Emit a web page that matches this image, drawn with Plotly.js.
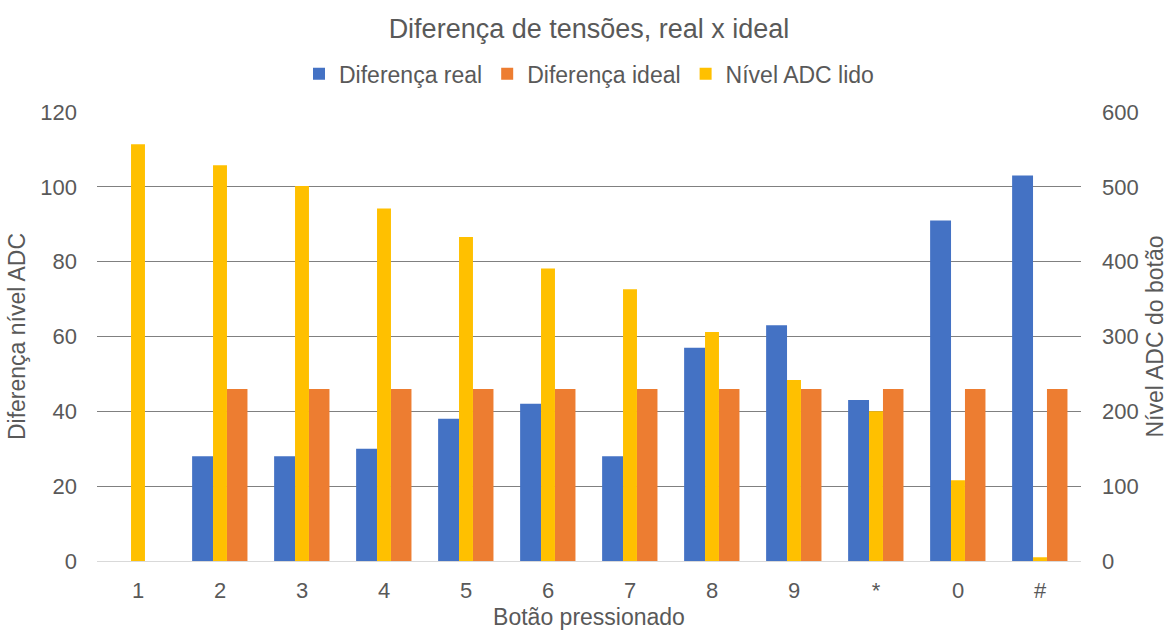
<!DOCTYPE html>
<html>
<head>
<meta charset="utf-8">
<script src="https://cdn.plot.ly/plotly-3.0.1.min.js"></script>
<style>html,body{margin:0;padding:0;background:#fff;}#chart{width:1168px;height:631px;}</style>
</head>
<body>
<div id="chart"></div>
<script>
var categories = ["1","2","3","4","5","6","7","8","9","*","0","#"];
var diferencaReal = [null, 28, 28, 30, 38, 42, 28, 57, 63, 43, 91, 103];
var diferencaIdeal = [null, 46, 46, 46, 46, 46, 46, 46, 46, 46, 46, 46];
var nivelADC = [557, 529, 501, 471, 433, 391, 363, 306, 242, 200, 108, 5];

var font = "Liberation Sans, Arial, sans-serif";
var grey = "#595959";

var traces = [
  {type:"bar", name:"Diferença real", x:categories, y:diferencaReal, yaxis:"y",
   width:0.255, offset:-0.34, marker:{color:"#4472C4"}},
  {type:"bar", name:"Diferença ideal", x:categories, y:diferencaIdeal, yaxis:"y",
   width:0.25, offset:0.085, marker:{color:"#ED7D31"}},
  {type:"bar", name:"Nível ADC lido", x:categories, y:nivelADC, yaxis:"y2",
   width:0.17, offset:-0.085, marker:{color:"#FFC000"}}
];

var layout = {
  width:1168, height:631,
  margin:{l:97, r:87, t:112, b:70},
  paper_bgcolor:"#fff", plot_bgcolor:"#fff",
  font:{family:font, color:grey, size:22},
  title:{text:"Diferença de tensões, real x ideal", x:0.5, xref:"paper", xanchor:"center", y:0.955, yanchor:"middle",
         font:{family:font, size:27, color:grey}},
  showlegend:true,
  legend:{orientation:"h", x:0.5, xanchor:"center", y:1.085, yanchor:"middle",
          font:{family:font, size:23, color:grey}, traceorder:"normal", itemwidth:30},
  barmode:"overlay",
  xaxis:{type:"category", categoryorder:"array", categoryarray:categories,
         range:[-0.5, 11.5], showgrid:false, showline:true, linecolor:"#d9d9d9", linewidth:1,
         ticks:"", ticklabelstandoff:10, tickfont:{family:font, size:22, color:grey},
         title:{text:"Botão pressionado", font:{family:font, size:23, color:grey}, standoff:6}},
  yaxis:{range:[0,120], dtick:20, showgrid:true, gridcolor:"#808080", gridwidth:1,
         zeroline:false, showline:false, ticks:"", ticklabelstandoff:19,
         tickfont:{family:font, size:22, color:grey},
         title:{text:"Diferença nível ADC", font:{family:font, size:23, color:grey}, standoff:8}},
  yaxis2:{range:[0,600], dtick:100, overlaying:"y", side:"right", showgrid:false,
          zeroline:false, showline:false, ticks:"", ticklabelstandoff:20,
          tickfont:{family:font, size:22, color:grey},
          title:{text:"Nível ADC do botão", font:{family:font, size:23, color:grey}, standoff:10}}
};

Plotly.newPlot("chart", traces, layout, {displayModeBar:false, responsive:false});
</script>
</body>
</html>
